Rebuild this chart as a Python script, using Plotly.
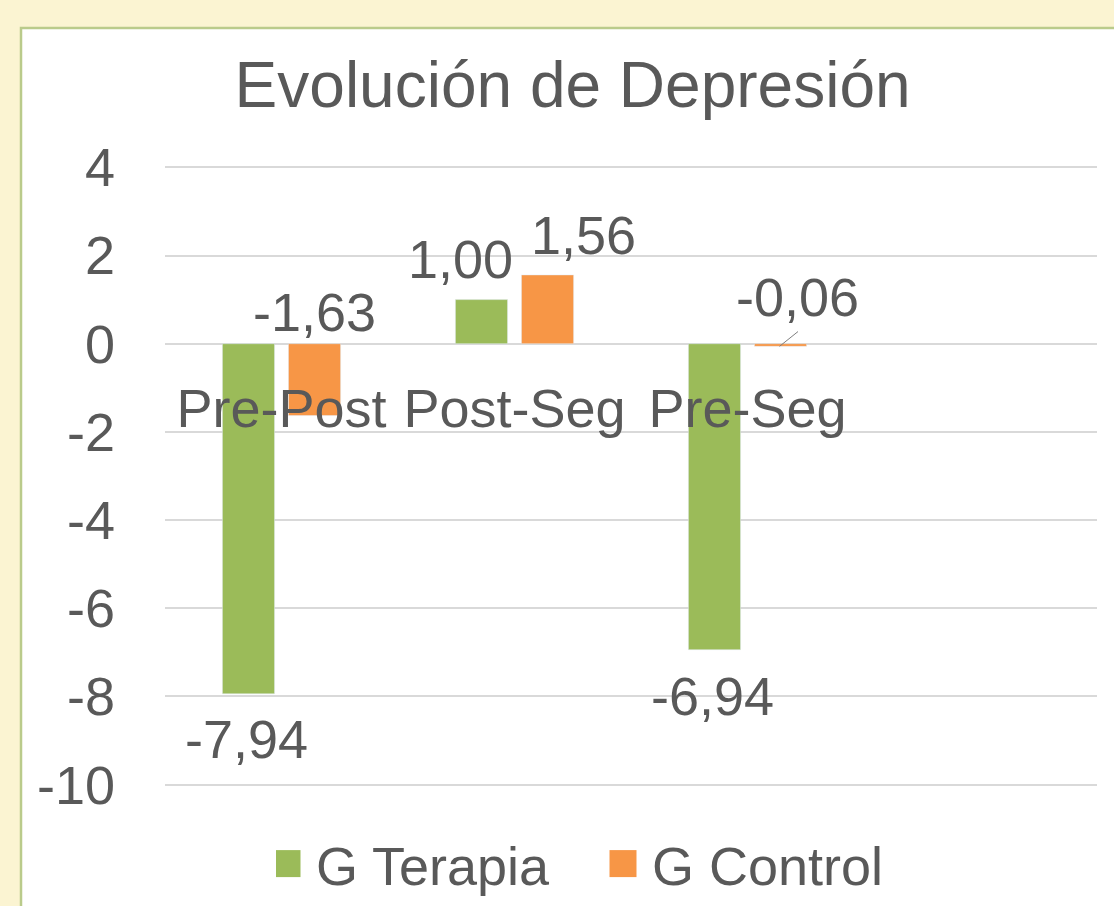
import plotly.graph_objects as go

categories = ["Pre-Post", "Post-Seg", "Pre-Seg"]
terapia = [-7.94, 1.00, -6.94]
control = [-1.63, 1.56, -0.06]
series_names = ["G Terapia", "G Control"]
colors = ["#9BBB59", "#F79646"]
y_ticks = [4, 2, 0, -2, -4, -6, -8, -10]

TXT = "#595959"
FONT = "Liberation Sans, Arial, sans-serif"
FS = 54

fig = go.Figure()
for name, vals, col in zip(series_names, [terapia, control], colors):
    fig.add_trace(go.Bar(x=categories, y=vals, name=name, marker_color=col,
                         showlegend=False))
    # legend proxy (square icon)
    fig.add_trace(go.Scatter(x=[None], y=[None], mode="markers", name=name,
                             marker=dict(symbol="square", size=16, color=col)))

# data labels (nudges mimic the manual placement in the original)
label_style = {
    ("G Terapia", 0): dict(yanchor="top", xs=-2, ys=-13),
    ("G Terapia", 1): dict(yanchor="bottom", xs=-21, ys=9),
    ("G Terapia", 2): dict(yanchor="top", xs=-2, ys=-14),
    ("G Control", 0): dict(yanchor="bottom", xs=0, ys=0),
    ("G Control", 1): dict(yanchor="bottom", xs=36, ys=8),
    ("G Control", 2): dict(yanchor="bottom", xs=17, ys=15),
}
group_shift = {"G Terapia": -33, "G Control": 33}
for name, vals in zip(series_names, [terapia, control]):
    for i, (c, v) in enumerate(zip(categories, vals)):
        st = label_style[(name, i)]
        anchor_y = v if st["yanchor"] == "top" or v > 0 else 0
        fig.add_annotation(x=c, y=anchor_y, text=f"{v:.2f}".replace(".", ","),
                           showarrow=False, xshift=group_shift[name] + st["xs"],
                           yshift=st["ys"], yanchor=st["yanchor"], xanchor="center",
                           font=dict(size=FS, color=TXT, family=FONT))

# leader line for the tiny control bar
fig.add_annotation(x=categories[2], y=control[2], text="", showarrow=True,
                   xshift=group_shift["G Control"] - 1, ax=20, ay=-16,
                   arrowhead=0, arrowwidth=1, arrowcolor="#7F7F7F")

# white chart panel with green border
fig.add_shape(type="rect", xref="paper", yref="paper",
              x0=(21 - 165) / 932, x1=1.2, y0=-0.4, y1=(786 - 28) / 620,
              fillcolor="white", line=dict(color="#BACB8B", width=2.5), layer="below")

fig.update_layout(
    width=1114, height=906,
    margin=dict(l=165, r=17, t=166, b=120, autoexpand=False),
    paper_bgcolor="#FBF4D2",
    plot_bgcolor="rgba(0,0,0,0)",
    barmode="group", bargap=0.433, bargroupgap=0.21,
    font=dict(family=FONT, color=TXT, size=FS),
    title=dict(text="Evolución de Depresión", x=0.514, xanchor="center",
               y=1 - 85 / 906, yanchor="middle", yref="container",
               font=dict(size=64, color=TXT, family=FONT)),
    legend=dict(orientation="h", x=(276 - 165) / 932, xanchor="left",
                y=1 - 864 / 906, yanchor="middle", yref="container",
                font=dict(size=FS, color=TXT, family=FONT), bgcolor="rgba(0,0,0,0)",
                itemwidth=30, entrywidth=291, traceorder="normal"),
    xaxis=dict(type="category", range=[-0.5, 3.5], anchor="free",
               position=10.03 / 14.06,
               showgrid=False, showline=False, ticks="", ticklabelstandoff=28,
               tickfont=dict(size=FS, color=TXT, family=FONT)),
    yaxis=dict(range=[-10.03, 4.03], tickvals=y_ticks,
               ticktext=[str(v) for v in y_ticks],
               showgrid=True, gridcolor="#D9D9D9",
               gridwidth=1.5, zeroline=True, zerolinecolor="#D9D9D9", zerolinewidth=1.5,
               ticklabelstandoff=49,
               tickfont=dict(size=FS, color=TXT, family=FONT)),
)

post = """
document.body.style.margin = '0';
document.querySelectorAll('.legendpoints path').forEach(function(p){
  p.setAttribute('d', 'M4.5,13.5H-22.5V-13.5H4.5Z');
});
"""
fig.write_html("out.html", post_script=post, config={"displayModeBar": False})
